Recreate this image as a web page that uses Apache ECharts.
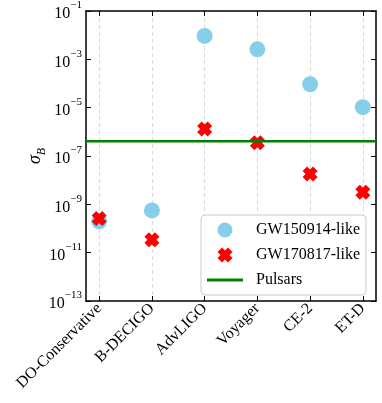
<!DOCTYPE html>
<html>
<head>
<meta charset="utf-8">
<script src="https://cdn.jsdelivr.net/npm/echarts@6/dist/echarts.min.js"></script>
<style>html,body{margin:0;padding:0;background:#fff}#c{width:382px;height:403px}</style>
</head>
<body>
<div id="c"></div>
<script>
const categories = ['DO-Conservative', 'B-DECIGO', 'AdvLIGO', 'Voyager', 'CE-2', 'ET-D'];
const gw150914 = [2.0e-10, 5.6e-10, 9.3e-3, 2.6e-3, 9.3e-5, 1.05e-5];
const gw170817 = [2.6e-10, 3.4e-11, 1.3e-6, 3.5e-7, 1.8e-8, 3.2e-9];
const pulsarLimit = 4.1e-7;
const seriesNames = ['GW150914-like', 'GW170817-like', 'Pulsars'];
const yMin = 1e-13, yMax = 1e-1;
const xMin = -0.25, xMax = 5.25;

const FONT = 'Liberation Serif';
const catIdx = categories.map((_, i) => i);
const xSymbol = 'path://M0,3 L3,0 L5,2 L7,0 L10,3 L8,5 L10,7 L7,10 L5,8 L3,10 L0,7 L2,5 Z';

const chart = echarts.init(document.getElementById('c'), null, {renderer: 'canvas'});
const tickStyle = {show: true, inside: true, length: 5, lineStyle: {color: '#000', width: 1}};
const axisLine = {show: true, onZero: false, lineStyle: {color: '#000', width: 1.5}};

chart.setOption({
  animation: false,
  backgroundColor: '#fff',
  grid: {left: 86, right: 6, top: 11, bottom: 102, containLabel: false},
  xAxis: [{
    type: 'value', min: xMin, max: xMax, position: 'bottom',
    axisLine: axisLine,
    axisTick: Object.assign({customValues: catIdx}, tickStyle),
    axisLabel: {
      customValues: catIdx, rotate: 45, margin: 5,
      fontFamily: FONT, fontSize: 16, color: '#000',
      formatter: v => categories[Math.round(v)]
    },
    splitLine: {show: true, lineStyle: {color: '#d0d0d0', type: [4, 3], width: 0.8}}
  }, {
    type: 'value', min: xMin, max: xMax, position: 'top',
    axisLine: axisLine,
    axisTick: Object.assign({customValues: catIdx}, tickStyle),
    axisLabel: {show: false},
    splitLine: {show: false}
  }],
  yAxis: [{
    type: 'log', logBase: 10, min: yMin, max: yMax, interval: 2, position: 'left',
    axisLine: axisLine,
    axisTick: tickStyle,
    minorTick: {show: false},
    splitLine: {show: false},
    axisLabel: {
      margin: 4,
      formatter: v => {
        const e = Math.round(Math.log10(v));
        return '{b|10}{sup|' + (e < 0 ? '\u2212' : '') + Math.abs(e) + '}';
      },
      rich: {
        b: {fontFamily: FONT, fontSize: 16, color: '#000', verticalAlign: 'bottom', lineHeight: 22},
        sup: {fontFamily: FONT, fontSize: 11, color: '#000', verticalAlign: 'top', lineHeight: 22}
      }
    },
    name: '{s|\u03c3}{sub|B}',
    nameLocation: 'middle', nameRotate: 90, nameGap: 38,
    nameMoveOverlap: false,
    nameTextStyle: {
      rich: {
        s: {fontFamily: FONT, fontStyle: 'italic', fontSize: 18, color: '#000', verticalAlign: 'top', lineHeight: 22},
        sub: {fontFamily: FONT, fontStyle: 'italic', fontSize: 12, color: '#000', verticalAlign: 'bottom', lineHeight: 22}
      }
    }
  }, {
    type: 'log', logBase: 10, min: yMin, max: yMax, interval: 2, position: 'right',
    axisLine: axisLine,
    axisTick: tickStyle,
    minorTick: {show: false},
    splitLine: {show: false},
    axisLabel: {show: false}
  }],
  legend: {
    orient: 'vertical', left: 201, top: 215,
    data: [
      {name: seriesNames[0]},
      {name: seriesNames[1]},
      {name: seriesNames[2], icon: 'path://M0,0 L36,0 L36,3 L0,3 Z'}
    ],
    itemWidth: 36, itemHeight: 15, itemGap: 9,
    padding: [7, 6, 7, 6],
    backgroundColor: 'rgba(255,255,255,0.85)',
    borderColor: '#cccccc', borderWidth: 1, borderRadius: 4,
    textStyle: {fontFamily: FONT, fontSize: 16, color: '#000', padding: [0, 0, 0, 8]}
  },
  series: [{
    name: seriesNames[0], type: 'scatter',
    symbol: 'circle', symbolSize: 16,
    itemStyle: {color: '#87CEEB', opacity: 1},
    data: gw150914.map((v, i) => [i, v])
  }, {
    name: seriesNames[1], type: 'scatter',
    symbol: xSymbol, symbolSize: 15,
    itemStyle: {color: '#ff0000', opacity: 1},
    data: gw170817.map((v, i) => [i, v])
  }, {
    name: seriesNames[2], type: 'line',
    symbol: 'none', showSymbol: false,
    lineStyle: {color: '#008000', width: 2.5},
    itemStyle: {color: '#008000'},
    data: [[xMin, pulsarLimit], [xMax, pulsarLimit]]
  }]
});
</script>
</body>
</html>
